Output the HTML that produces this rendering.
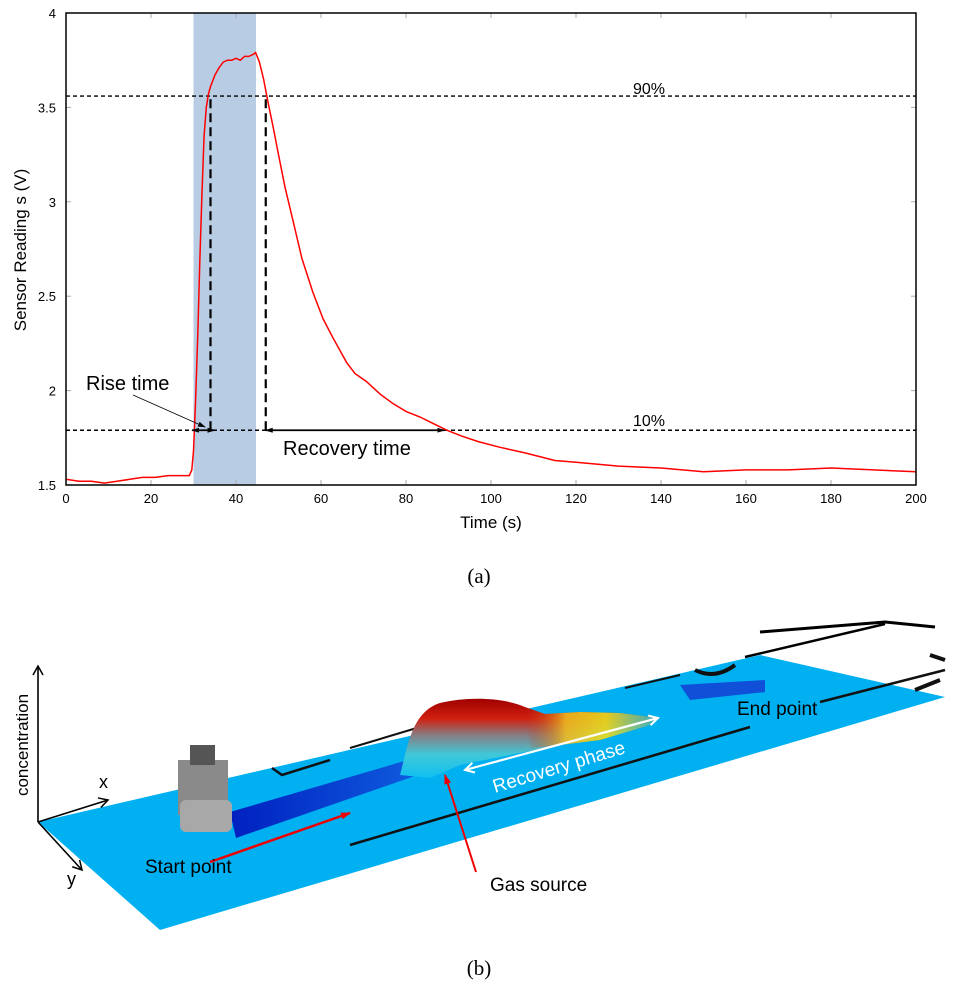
<!DOCTYPE html>
<html><head><meta charset="utf-8">
<style>
body{margin:0;background:#fff;width:957px;height:1000px;overflow:hidden;font-family:"Liberation Sans",sans-serif}
svg{position:absolute;left:0;top:0}
</style></head>
<body>
<svg id="chart" width="957" height="1000" viewBox="0 0 957 1000"></svg>
<script>
const timeS=[0,3,6,9,12,15,18,21,24,27,29,29.6,30,30.5,31,31.5,32,32.5,33,33.5,34,35,36,37,38,39,40,41,42,43,44,44.6,45.5,46.5,47.5,48.7,50,51.5,53.4,55.5,58.1,60.5,62.8,66,68,70.6,74,77,80,83.3,86,89.6,93,97,102,108,115,120,130,140,150,160,170,180,190,200];
const voltV=[1.53,1.52,1.52,1.51,1.52,1.53,1.54,1.54,1.55,1.55,1.55,1.58,1.68,1.95,2.3,2.7,3.05,3.35,3.5,3.57,3.61,3.67,3.71,3.74,3.75,3.75,3.76,3.75,3.77,3.77,3.78,3.79,3.74,3.65,3.53,3.4,3.25,3.08,2.9,2.7,2.52,2.38,2.28,2.15,2.09,2.05,1.98,1.93,1.89,1.86,1.83,1.79,1.76,1.73,1.70,1.67,1.63,1.62,1.60,1.59,1.57,1.58,1.58,1.59,1.58,1.57];
const xTicks=[0,20,40,60,80,100,120,140,160,180,200];
const yTicks=[1.5,2,2.5,3,3.5,4];
const yTickLabels=["1.5","2","2.5","3","3.5","4"];
const exposure=[30,44.7];
const level90=3.56, level10=1.79;
const riseTimes=[29.7,34];
const recoveryTimes=[47,89];

const NS="http://www.w3.org/2000/svg";
const svg=document.getElementById('chart');
const L=66,R=916,T=13,B=485;
const xs=t=>L+(t-0)/(200-0)*(R-L);
const ys=v=>B-(v-1.5)/(4-1.5)*(B-T);
function mk(tag,at,parent){const e=document.createElementNS(NS,tag);for(const k in at)e.setAttribute(k,at[k]);(parent||svg).appendChild(e);return e;}

const defs=mk('defs',{});
defs.innerHTML=`<marker id="ah" markerUnits="userSpaceOnUse" markerWidth="8" markerHeight="8" refX="7" refY="4" orient="auto-start-reverse"><path d="M0,1.5 L8,4 L0,6.5 z" fill="#000"/></marker>
<marker id="ahr" markerUnits="userSpaceOnUse" markerWidth="10" markerHeight="10" refX="9" refY="5" orient="auto"><path d="M0,1.5 L10,5 L0,8.5 z" fill="#e00"/></marker>
<marker id="ahw" markerUnits="userSpaceOnUse" markerWidth="12" markerHeight="12" refX="10" refY="6" orient="auto-start-reverse"><path d="M1,1 L10,6 L1,11" fill="none" stroke="#fff" stroke-width="2"/></marker>
<marker id="ahk" markerUnits="userSpaceOnUse" markerWidth="12" markerHeight="12" refX="10" refY="6" orient="auto"><path d="M1,1 L10,6 L1,11" fill="none" stroke="#000" stroke-width="1.5"/></marker>
<linearGradient id="blob" x1="0" y1="0" x2="0" y2="1"><stop offset="0" stop-color="#a00000"/><stop offset="0.25" stop-color="#d02010"/><stop offset="0.45" stop-color="#8a7a80"/><stop offset="0.7" stop-color="#40c8d8"/><stop offset="1" stop-color="#10c0f0"/></linearGradient>
<linearGradient id="tail" x1="0" y1="0" x2="1" y2="0"><stop offset="0" stop-color="#c03010" stop-opacity="0"/><stop offset="0.3" stop-color="#f0c020"/><stop offset="0.6" stop-color="#e8e820"/><stop offset="1" stop-color="#10c0f0"/></linearGradient>
<linearGradient id="trough" x1="0" y1="0" x2="1" y2="0"><stop offset="0" stop-color="#0020c0"/><stop offset="1" stop-color="#1060e0"/></linearGradient>`;

const band=mk('rect',{x:xs(exposure[0]),y:T,width:xs(exposure[1])-xs(exposure[0]),height:B-T,fill:'#b8cce4'});

xTicks.forEach(t=>{mk('line',{x1:xs(t),x2:xs(t),y1:B,y2:B-5,stroke:'#aaa'});mk('line',{x1:xs(t),x2:xs(t),y1:T,y2:T+5,stroke:'#aaa'});
 const tx=mk('text',{x:xs(t),y:B+18,'text-anchor':'middle','font-size':13});tx.textContent=t;
 });
yTicks.forEach((v,i)=>{mk('line',{x1:L,x2:L+5,y1:ys(v),y2:ys(v),stroke:'#aaa'});mk('line',{x1:R,x2:R-5,y1:ys(v),y2:ys(v),stroke:'#aaa'});
 const tx=mk('text',{x:L-10,y:ys(v)+5,'text-anchor':'end','font-size':13});tx.textContent=yTickLabels[i];
 });
[level90,level10].forEach((lv,i)=>{const l=mk('line',{x1:L,x2:R,y1:ys(lv),y2:ys(lv),stroke:'#000','stroke-width':1.4,'stroke-dasharray':'4,3'});
 });
[riseTimes[1],recoveryTimes[0]].forEach(t=>{const l=mk('line',{x1:xs(t),x2:xs(t),y1:ys(level10),y2:ys(level90),stroke:'#000','stroke-width':2.2,'stroke-dasharray':'9,5'});
 });
let d='';timeS.forEach((t,i)=>{d+=(i?'L':'M')+xs(t).toFixed(1)+','+ys(voltV[i]).toFixed(1);});
const path=mk('path',{d:d,fill:'none',stroke:'#f00','stroke-width':1.5});

const a1=mk('line',{x1:xs(riseTimes[0]),x2:xs(riseTimes[1])+4,y1:ys(level10),y2:ys(level10),stroke:'#000','stroke-width':1.8,'marker-start':'url(#ah)','marker-end':'url(#ah)'});

const a2=mk('line',{x1:xs(recoveryTimes[0]),x2:xs(recoveryTimes[1]),y1:ys(level10),y2:ys(level10),stroke:'#000','stroke-width':1.8,'marker-start':'url(#ah)','marker-end':'url(#ah)'});

mk('line',{x1:133,y1:395,x2:205,y2:427,stroke:'#000','stroke-width':0.8,'marker-end':'url(#ah)'});
const fr=mk('rect',{x:L,y:T,width:R-L,height:B-T,fill:'none',stroke:'#000','stroke-width':1.5});

</script>
<svg width="957" height="1000" viewBox="0 0 957 1000" style="pointer-events:none">
<text x="86" y="390" font-size="20">Rise time</text>
<text x="283" y="455" font-size="20">Recovery time</text>
<text x="633" y="94" font-size="16">90%</text>
<text x="633" y="426" font-size="16">10%</text>
<text x="491" y="528" font-size="17" text-anchor="middle">Time (s)</text>
<text transform="translate(26,250) rotate(-90)" font-size="17" text-anchor="middle">Sensor Reading s (V)</text>
<text x="479" y="583" font-size="21" font-family="Liberation Serif,serif" text-anchor="middle">(a)</text>
<text x="479" y="975" font-size="21" font-family="Liberation Serif,serif" text-anchor="middle">(b)</text>

<g>
<polygon points="38,822 760,655 945,697 160,930" fill="#00b0f0"/>
<polyline points="760,632 885,622 935,627" fill="none" stroke="#000" stroke-width="3"/>
<line x1="745" y1="657" x2="885" y2="624" stroke="#000" stroke-width="2.5"/>
<line x1="350" y1="845" x2="750" y2="727" stroke="#111" stroke-width="2.5"/>
<line x1="820" y1="702" x2="945" y2="670" stroke="#111" stroke-width="2.5"/>
<line x1="350" y1="748" x2="420" y2="727" stroke="#111" stroke-width="2"/>
<polyline points="272,768 282,775 330,760" fill="none" stroke="#111" stroke-width="2.5"/>
<line x1="625" y1="688" x2="680" y2="675" stroke="#111" stroke-width="2"/>
<path d="M695,670 Q715,680 735,665" fill="none" stroke="#111" stroke-width="4"/>
<path d="M915,690 L940,680 M930,655 L945,660" stroke="#111" stroke-width="4"/>
</g>
<polygon points="230,812 425,755 432,770 236,838" fill="url(#trough)"/>
<polygon points="680,685 765,680 765,692 690,700" fill="#1050d8"/>
<path d="M400,775 C408,745 412,712 440,703 C470,696 505,698 525,707 L545,714 L580,712 L620,713 L660,718 L650,725 L600,740 L560,745 L500,757 L460,765 L430,778 Z" fill="url(#blob)"/>
<polygon points="525,707 545,714 580,712 620,713 660,718 650,725 600,740 560,745 530,748" fill="url(#tail)" opacity="0.85"/>
<g>
<rect x="178" y="760" width="50" height="55" fill="#8a8a8a"/>
<rect x="180" y="800" width="52" height="32" rx="6" fill="#a8a8a8"/>
<rect x="190" y="745" width="25" height="20" fill="#555"/>
</g>
<line x1="210" y1="862" x2="350" y2="813" stroke="#e00" stroke-width="2.5" marker-end="url(#ahr)"/>
<line x1="476" y1="872" x2="445" y2="775" stroke="#e00" stroke-width="2" marker-end="url(#ahr)"/>
<line x1="465" y1="770" x2="658" y2="718" stroke="#fff" stroke-width="2.2" marker-start="url(#ahw)" marker-end="url(#ahw)"/>
<text transform="translate(495,793) rotate(-17)" font-size="19" fill="#fff">Recovery phase</text>
<text x="145" y="873" font-size="19">Start point</text>
<text x="490" y="891" font-size="19">Gas source</text>
<text x="737" y="715" font-size="19">End point</text>
<g stroke="#000" stroke-width="1.6" fill="none">
<line x1="38" y1="822" x2="38" y2="666" marker-end="url(#ahk)"/>
<line x1="38" y1="822" x2="108" y2="800" marker-end="url(#ahk)"/>
<line x1="38" y1="822" x2="82" y2="870" marker-end="url(#ahk)"/>
</g>
<text transform="translate(28,745) rotate(-90)" font-size="17" text-anchor="middle">concentration</text>
<text x="99" y="788" font-size="18">x</text>
<text x="67" y="885" font-size="18">y</text>
</svg>
</body></html>
